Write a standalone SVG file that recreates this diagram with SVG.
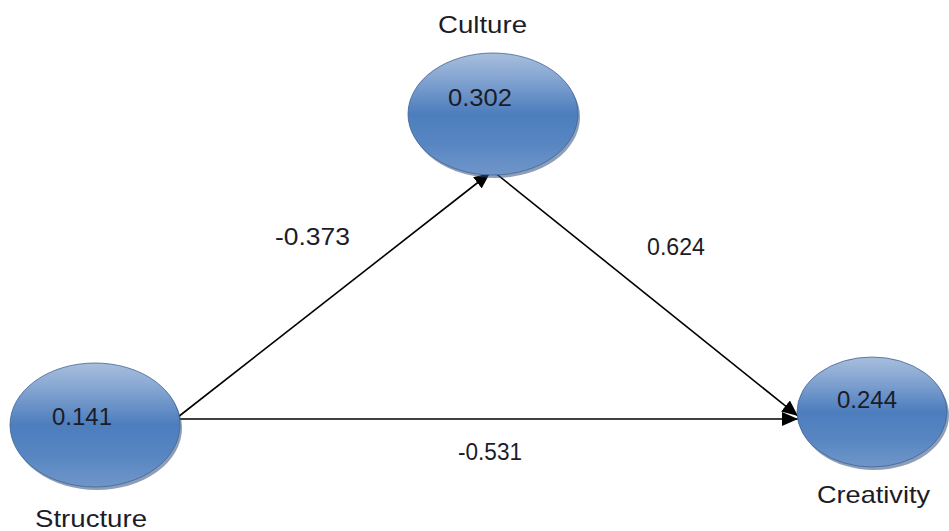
<svg xmlns="http://www.w3.org/2000/svg" width="949" height="531" viewBox="0 0 949 531">
<style>
.lbl{font-family:"Liberation Sans",Arial,sans-serif;font-size:24px;fill:#1c1c28;text-anchor:middle}
.conn{stroke:#000;stroke-width:1.6;fill:none}
.node{fill:url(#g);stroke:#3f6596;stroke-width:0.8}
.shade{fill:#2f4f7a;opacity:0.55}
</style>
<defs>
<linearGradient id="g" x1="0" y1="0" x2="0" y2="1">
<stop offset="0" stop-color="#a8bedc"/>
<stop offset="0.2" stop-color="#86a6d2"/>
<stop offset="0.5" stop-color="#4c7dbd"/>
<stop offset="0.75" stop-color="#5886c2"/>
<stop offset="1" stop-color="#7096c9"/>
</linearGradient>
<marker id="arr" markerUnits="userSpaceOnUse" markerWidth="18" markerHeight="14" refX="16" refY="7" orient="auto">
<path d="M0,0 L16,7 L0,14 Z" fill="#000"/>
</marker>
</defs>
<g id="connectors">
<line class="conn" x1="178" y1="417" x2="490" y2="173" marker-end="url(#arr)"/>
<line class="conn" x1="494" y1="172" x2="798" y2="416" marker-end="url(#arr)"/>
<line class="conn" x1="178" y1="419" x2="798" y2="419" marker-end="url(#arr)"/>
<text class="lbl" x="312.5" y="245" textLength="75" lengthAdjust="spacingAndGlyphs">-0.373</text>
<text class="lbl" x="676" y="255" textLength="58" lengthAdjust="spacingAndGlyphs">0.624</text>
<text class="lbl" x="490" y="460" textLength="64" lengthAdjust="spacingAndGlyphs">-0.531</text>
</g>
<g id="culture">
<ellipse class="shade" cx="495" cy="117" rx="85" ry="61"/>
<ellipse class="node" cx="493" cy="114" rx="85" ry="61"/>
<text class="lbl" x="480" y="106" textLength="64" lengthAdjust="spacingAndGlyphs">0.302</text>
<text class="lbl" x="482.5" y="33" textLength="89" lengthAdjust="spacingAndGlyphs">Culture</text>
</g>
<g id="structure">
<ellipse class="shade" cx="97" cy="428" rx="85" ry="62"/>
<ellipse class="node" cx="95" cy="425" rx="85" ry="62"/>
<text class="lbl" x="82" y="425" textLength="60" lengthAdjust="spacingAndGlyphs">0.141</text>
<text class="lbl" x="91" y="527" textLength="112" lengthAdjust="spacingAndGlyphs">Structure</text>
</g>
<g id="creativity">
<ellipse class="shade" cx="874" cy="415" rx="75" ry="55"/>
<ellipse class="node" cx="872" cy="412" rx="75" ry="55"/>
<text class="lbl" x="867" y="408" textLength="60" lengthAdjust="spacingAndGlyphs">0.244</text>
<text class="lbl" x="873.5" y="503" textLength="113" lengthAdjust="spacingAndGlyphs">Creativity</text>
</g>
</svg>
